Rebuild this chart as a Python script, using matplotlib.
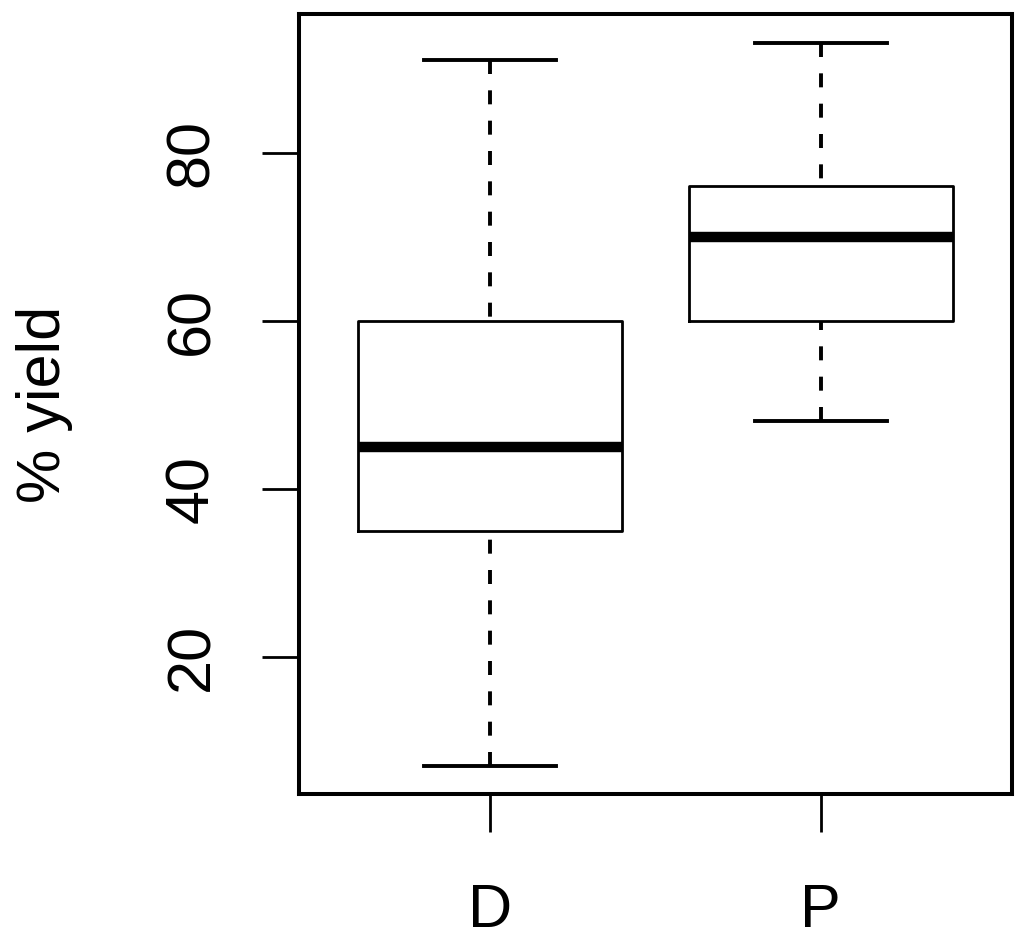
import matplotlib
matplotlib.use("Agg")
import matplotlib.pyplot as plt

# Data
groups = ["D", "P"]
whisker_low = [7, 48]
q1 = [35, 60]
median = [45, 70]
q3 = [60, 76]
whisker_high = [91, 93]
yticks = [20, 40, 60, 80]
ylabel = "% yield"

plt.rcParams['font.family'] = ['Liberation Sans', 'DejaVu Sans']

fig = plt.figure(figsize=(10.24, 9.51), dpi=100)
ax = fig.add_axes([299/1024, 1 - 794/951, (1012-299)/1024, (794-14)/951])

stats = []
for i, g in enumerate(groups):
    stats.append(dict(label=g, whislo=whisker_low[i], q1=q1[i], med=median[i],
                      q3=q3[i], whishi=whisker_high[i], fliers=[]))

pos = list(range(1, len(groups) + 1))
res = ax.bxp(stats, positions=pos, widths=0.8, showfliers=False,
             boxprops=dict(color='black', linewidth=2.0),
             medianprops=dict(color='black', linewidth=7.5, solid_capstyle='butt'),
             whiskerprops=dict(color='black', linewidth=2.8, linestyle=(0, (3.6, 4.2))),
             capprops=dict(color='black', linewidth=2.8),
             capwidths=0.4)
# draw whiskers from the cap toward the box (R style dash phase)
for ln in res['whiskers']:
    ln.set_ydata(list(ln.get_ydata())[::-1])

ax.set_xlim(0.42, 2.58)
ax.set_ylim(3.65, 96.5)
ax.set_yticks(yticks)
ax.set_yticklabels([str(v) for v in yticks])
ax.set_xticks(pos)
ax.set_xticklabels(groups)

for s in ax.spines.values():
    s.set_linewidth(2.9)

ax.tick_params(axis='y', length=27, width=2.0, labelsize=44, pad=29, labelrotation=90)
ax.tick_params(axis='x', length=27, width=2.0, labelsize=44, pad=37)
for lab in ax.get_yticklabels():
    lab.set_va('center')

ax.set_ylabel(ylabel, fontsize=44, labelpad=66)

fig.savefig("out.png", dpi=100, facecolor='white')
